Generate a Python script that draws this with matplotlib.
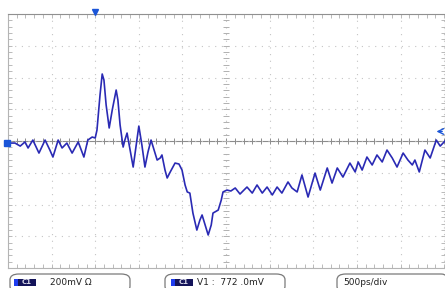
import matplotlib.pyplot as plt
import numpy as np
from matplotlib.patches import FancyBboxPatch, Rectangle

# scope settings
time_per_div = 500    # ps
volt_per_div = 200    # mV
trigger_pos = 1000    # ps
trigger_level = 60    # mV
ground_level = -10    # mV

# trace (ps, mV)
time_ps = [0, 80, 140, 195, 230, 285, 355, 425, 480, 515, 575, 620, 675, 735, 805,
           870, 915, 965, 1000, 1020, 1055, 1080, 1100, 1125, 1160, 1195, 1240, 1260,
           1285, 1320, 1340, 1365, 1400, 1435, 1470, 1500, 1535, 1570, 1605, 1640,
           1675, 1710, 1745, 1765, 1800, 1825, 1860, 1915, 1960, 1995, 2030, 2055,
           2085, 2120, 2165, 2200, 2225, 2260, 2295, 2330, 2350, 2410, 2445, 2465,
           2510, 2555, 2605, 2660, 2705, 2740, 2800, 2855, 2915, 2970, 3030, 3085,
           3140, 3210, 3255, 3315, 3370, 3440, 3520, 3580, 3660, 3715, 3775, 3840,
           3920, 3980, 4015, 4060, 4115, 4175, 4230, 4290, 4345, 4405, 4460, 4530,
           4585, 4635, 4665, 4715, 4780, 4840, 4910, 4955, 5010]
volt_mv = [-13, -13, -32, -6, -44, 6, -76, 6, -57, -101, 6, -44, -13, -76, -6,
           -101, 6, 25, 19, 69, 290, 422, 384, 227, 82, 195, 321, 258,
           101, -38, 6, 50, -57, -164, -25, 94, -25, -164, -69, 6,
           -57, -120, -107, -88, -183, -233, -195, -139, -145, -183, -277, -321,
           -328, -454, -561, -498, -466, -529, -592, -529, -454, -435, -372, -321,
           -309, -315, -296, -334, -309, -290, -328, -277, -328, -290, -340, -290,
           -328, -258, -296, -321, -214, -353, -202, -309, -170, -265, -170, -227,
           -139, -195, -132, -183, -101, -151, -88, -132, -57, -107, -164, -76,
           -120, -151, -120, -195, -57, -107, 6, -32, 0]

status_texts = ['200mV Ω', 'V1 :  772 .0mV', '500ps/div']

trace_col = '#2a2ab4'
marker_col = '#1a55d8'
grid_col = '#c4c4c4'

fig = plt.figure(figsize=(4.45, 2.88), dpi=100)
W, H = 445.0, 288.0
ax = fig.add_axes([8 / W, 1 - 268 / H, 437 / W, 254 / H])

ax.set_xlim(0, 5010)
ax.set_ylim(-4 * volt_per_div, 4 * volt_per_div)

# graticule
ax.set_xticks(np.arange(0, 5001, time_per_div))
ax.set_yticks(np.arange(-800, 801, volt_per_div))
ax.set_xticks(np.arange(0, 5001, time_per_div / 5), minor=True)
ax.set_yticks(np.arange(-800, 801, volt_per_div / 5), minor=True)
ax.grid(True, which='major', color=grid_col, ls=(0, (1, 5)), lw=0.8)
ax.tick_params(which='both', direction='in', length=3, color='#b0b0b0', width=0.6,
               top=True, right=True, labelbottom=False, labelleft=False)
for s in ax.spines.values():
    s.set_color('#b4b4b4')
    s.set_linewidth(0.8)
ax.spines['top'].set_color('#909090')

ax.axhline(0, color='#8c8c8c', lw=0.8, zorder=1)
mt = np.arange(0, 5001, time_per_div / 5)
ax.plot(mt, np.zeros_like(mt), ls='none', marker='|', ms=4, mew=0.7, color='#8c8c8c')
mv = np.arange(-800, 801, volt_per_div / 5)
ax.plot(np.full_like(mv, 2500), mv, ls='none', marker='_', ms=4, mew=0.7, color='#b0b0b0')

# waveform
ax.plot(time_ps, volt_mv, color=trace_col, lw=1.2, solid_joinstyle='round', zorder=5)

# markers
ax.plot(trigger_pos, 812, marker='v', ms=5, color=marker_col, clip_on=False, zorder=6)
ax.plot(-10, ground_level, marker='s', ms=5, color=marker_col, clip_on=False, zorder=6)
ax.annotate('', xy=(4880, trigger_level), xytext=(5010, trigger_level),
            arrowprops=dict(arrowstyle='->', color=marker_col, lw=1.0),
            annotation_clip=False)

# status bar
boxes = [(10, 130), (165, 285), (337, 450)]
for (x0, x1) in boxes:
    fig.patches.append(FancyBboxPatch((x0 / W, 1 - 292 / H), (x1 - x0) / W, 18 / H,
                                      boxstyle='round,pad=0,rounding_size=0.02',
                                      transform=fig.transFigure, fc='none',
                                      ec='#7a7a7a', lw=0.9))

for x0 in (14, 171):
    fig.patches.append(Rectangle((x0 / W, 1 - 286 / H), 22 / W, 7 / H,
                                 transform=fig.transFigure, fc='#14145a', ec='none'))
    fig.patches.append(Rectangle((x0 / W, 1 - 286 / H), 4 / W, 7 / H,
                                 transform=fig.transFigure, fc='#1e3cf0', ec='none'))
    fig.text((x0 + 13) / W, 1 - 282.5 / H, 'C1', color='#d8d8e8', fontsize=5,
             ha='center', va='center', fontweight='bold')

fig.text(50 / W, 1 - 282.5 / H, status_texts[0], fontsize=6.5, va='center', color='#222222')
fig.text(197 / W, 1 - 282.5 / H, status_texts[1], fontsize=6.5, va='center', color='#222222')
fig.text(343 / W, 1 - 282.5 / H, status_texts[2], fontsize=6.5, va='center', color='#222222')

fig.savefig('out.png', dpi=100)
